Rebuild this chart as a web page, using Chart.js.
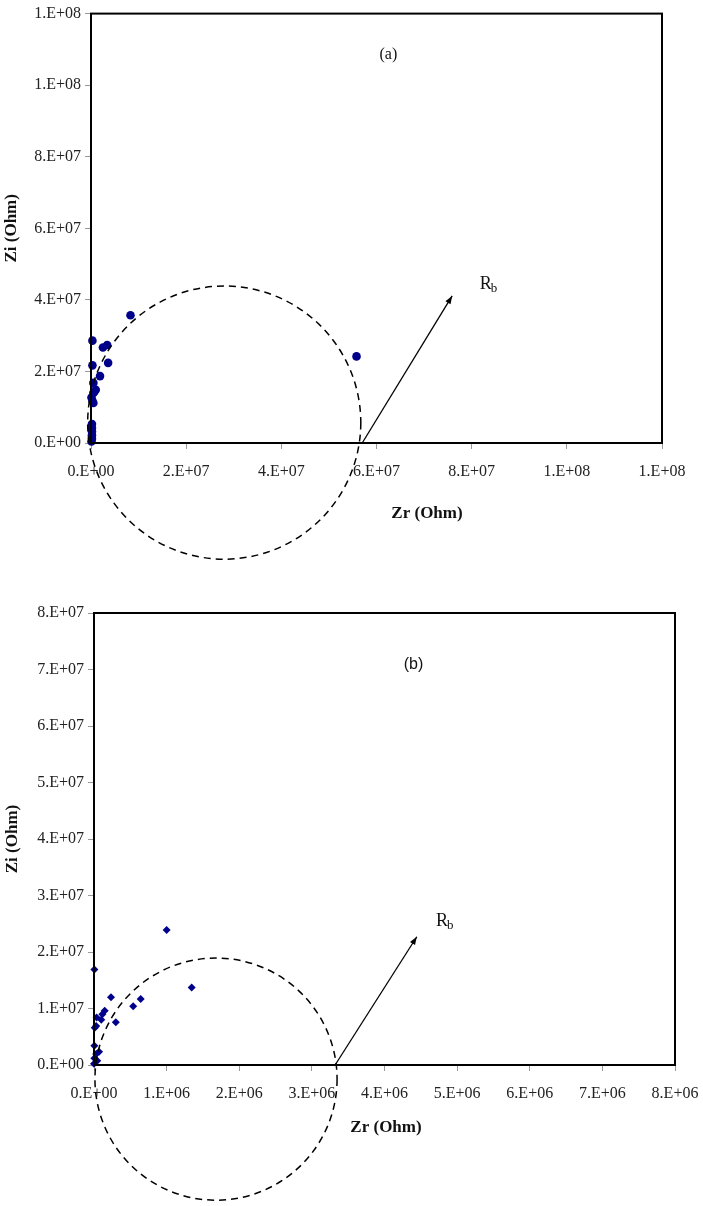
<!DOCTYPE html>
<html>
<head>
<meta charset="utf-8">
<script src="https://cdn.jsdelivr.net/npm/chart.js@4.4.0/dist/chart.umd.min.js"></script>
<style>
  html, body { margin: 0; padding: 0; background: #fff; overflow: hidden; }
  #wrap { position: relative; width: 703px; height: 1206px; overflow: hidden; }
  canvas { position: absolute; left: 0; }
</style>
</head>
<body>
<div id="wrap">
  <canvas id="chartA" width="703" height="590" style="top:0"></canvas>
  <canvas id="chartB" width="715" height="616" style="top:590px"></canvas>
</div>
<script>
// ---- data (a) ----
const zrA = [8.3e6, 0.3e6, 2.5e6, 3.4e6, 3.6e6, 0.3e6, 1.9e6, 0.5e6, 1.0e6, 0.7e6, 0.5e6, 0.1e6, 0.5e6, 0.3e6,
             0.2e6, 0.2e6, 0.2e6, 0.2e6, 0.2e6, 0.1e6, 5.58e7];
const ziA = [3.57e7, 2.86e7, 2.67e7, 2.74e7, 2.24e7, 2.17e7, 1.87e7, 1.68e7, 1.49e7, 1.43e7, 1.40e7, 1.27e7, 1.12e7, 1.18e7,
             5.3e6, 4.2e6, 3.2e6, 2.2e6, 1.2e6, 0.4e6, 2.42e7];
const xTicksA = ['0.E+00', '2.E+07', '4.E+07', '6.E+07', '8.E+07', '1.E+08', '1.E+08'];
const yTicksA = ['0.E+00', '2.E+07', '4.E+07', '6.E+07', '8.E+07', '1.E+08', '1.E+08'];

// ---- data (b) ----
const zrB = [0.005e6, 1.345e6, 0.234e6, 0.643e6, 0.54e6, 0.147e6, 0.115e6, 0.036e6, 0.1e6, 0.3e6, 0.03e6, 0.01e6,
             0.005e6, 0.07e6, 0.03e6, 0.005e6, 0.045e6, 0.0, 1.0e6];
const ziB = [1.69e7, 1.37e7, 1.20e7, 1.17e7, 1.04e7, 0.96e7, 0.90e7, 0.84e7, 0.80e7, 0.755e7, 0.69e7, 0.66e7,
             0.34e7, 0.235e7, 0.195e7, 0.12e7, 0.075e7, 0.02e7, 2.39e7];
const xTicksB = ['0.E+00', '1.E+06', '2.E+06', '3.E+06', '4.E+06', '5.E+06', '6.E+06', '7.E+06', '8.E+06'];
const yTicksB = ['0.E+00', '1.E+07', '2.E+07', '3.E+07', '4.E+07', '5.E+07', '6.E+07', '7.E+07', '8.E+07'];

const serif = '"Liberation Serif", "DejaVu Serif", serif';
const navy = '#00008b';

// draws box, axis titles, dashed semicircle, arrow and labels
const decorPlugin = {
  id: 'decor',
  afterDraw(chart, args, o) {
    const { ctx, chartArea: a, scales: { x, y } } = chart;
    ctx.save();
    // frame
    ctx.strokeStyle = '#000';
    ctx.lineWidth = 2;
    ctx.strokeRect(a.left, a.top, a.right - a.left, a.bottom - a.top);

    // dashed circle
    const cx = x.getPixelForValue(o.circle.x);
    const cy = y.getPixelForValue(o.circle.y);
    const r = x.getPixelForValue(o.circle.r) - x.getPixelForValue(0);
    ctx.lineWidth = 1.5;
    ctx.setLineDash([7, 5]);
    ctx.beginPath();
    ctx.arc(cx, cy, r, 0, Math.PI * 2);
    ctx.stroke();
    ctx.setLineDash([]);

    // arrow
    const x0 = x.getPixelForValue(o.arrow[0]), y0 = y.getPixelForValue(o.arrow[1]);
    const x1 = x.getPixelForValue(o.arrow[2]), y1 = y.getPixelForValue(o.arrow[3]);
    ctx.lineWidth = 1.3;
    ctx.beginPath();
    ctx.moveTo(x0, y0);
    ctx.lineTo(x1, y1);
    ctx.stroke();
    const ang = Math.atan2(y1 - y0, x1 - x0);
    ctx.fillStyle = '#000';
    ctx.beginPath();
    ctx.moveTo(x1, y1);
    ctx.lineTo(x1 - 8 * Math.cos(ang) + 3 * Math.sin(ang), y1 - 8 * Math.sin(ang) - 3 * Math.cos(ang));
    ctx.lineTo(x1 - 8 * Math.cos(ang) - 3 * Math.sin(ang), y1 - 8 * Math.sin(ang) + 3 * Math.cos(ang));
    ctx.closePath();
    ctx.fill();

    // R_b label
    const rx = x.getPixelForValue(o.rb[0]), ry = y.getPixelForValue(o.rb[1]);
    ctx.fillStyle = '#111';
    ctx.textBaseline = 'middle';
    ctx.textAlign = 'left';
    ctx.font = '18px ' + serif;
    ctx.fillText('R', rx, ry);
    const rw = ctx.measureText('R').width;
    ctx.font = '13px ' + serif;
    ctx.fillText('b', rx + rw - 1, ry + 4);

    // panel label
    ctx.textAlign = 'center';
    ctx.font = o.tagFont;
    ctx.fillText(o.tag, x.getPixelForValue(o.tagAt[0]), y.getPixelForValue(o.tagAt[1]));

    // axis titles
    ctx.font = 'bold 17px ' + serif;
    ctx.fillText('Zr (Ohm)', o.xTitle[0], o.xTitle[1]);
    ctx.translate(o.yTitle[0], (a.top + a.bottom) / 2);
    ctx.rotate(-Math.PI / 2);
    ctx.fillText('Zi (Ohm)', 0, 0);
    ctx.restore();
  }
};

function makeChart(id, zr, zi, pointStyle, radius, xMax, xStep, yMax, yStep, xLabels, yLabels, pad, xH, yW, decor) {
  const pts = zr.map((v, i) => ({ x: v, y: zi[i] }));
  const tickFont = { family: serif, size: 16 };
  return new Chart(document.getElementById(id), {
    type: 'scatter',
    data: {
      datasets: [{
        data: pts,
        pointStyle: pointStyle,
        pointRadius: radius,
        backgroundColor: navy,
        borderColor: navy,
        borderWidth: 0,
        clip: false
      }]
    },
    options: {
      responsive: false,
      animation: false,
      devicePixelRatio: 1,
      layout: { padding: pad },
      plugins: { legend: { display: false }, tooltip: { enabled: false }, decor: decor },
      scales: {
        x: {
          type: 'linear', min: 0, max: xMax,
          afterFit: s => { s.height = xH; },
          border: { display: false },
          grid: { drawOnChartArea: false, drawTicks: true, tickLength: 6, color: '#999' },
          ticks: { stepSize: xStep, padding: 13, color: '#222', font: tickFont,
                   maxRotation: 0, autoSkip: false, callback: (v, i) => xLabels[i] }
        },
        y: {
          type: 'linear', min: 0, max: yMax,
          afterFit: s => { s.width = yW; },
          border: { display: false },
          grid: { drawOnChartArea: false, drawTicks: true, tickLength: 6, color: '#999' },
          ticks: { stepSize: yStep, padding: 4, color: '#222', font: tickFont,
                   autoSkip: false, callback: (v, i) => yLabels[i] }
        }
      }
    },
    plugins: [decorPlugin]
  });
}

makeChart('chartA', zrA, ziA, 'circle', 4.3, 1.2e8, 2e7, 1.2e8, 2e7, xTicksA, yTicksA,
  { top: 10, right: 41, left: 0, bottom: 0 }, 147, 91,
  { circle: { x: 2.8e7, y: 0.57e7, r: 2.87e7 },
    arrow: [5.7e7, 0, 7.59e7, 4.11e7],
    rb: [8.17e7, 4.44e7],
    tag: '(a)', tagAt: [6.25e7, 1.086e8], tagFont: '16px ' + serif,
    xTitle: [427, 514], yTitle: [12] });

makeChart('chartB', zrB, ziB, 'rectRot', 4, 8e6, 1e6, 8e7, 1e7, xTicksB, yTicksB,
  { top: 23, right: 40, left: 0, bottom: 0 }, 141, 94,
  { circle: { x: 1.68e6, y: -0.25e7, r: 1.667e6 },
    arrow: [3.32e6, 0, 4.445e6, 2.27e7],
    rb: [4.71e6, 2.54e7],
    tag: '(b)', tagAt: [4.40e6, 7.08e7], tagFont: '16px "Liberation Sans", sans-serif',
    xTitle: [386, 538], yTitle: [13] });
</script>
</body>
</html>
